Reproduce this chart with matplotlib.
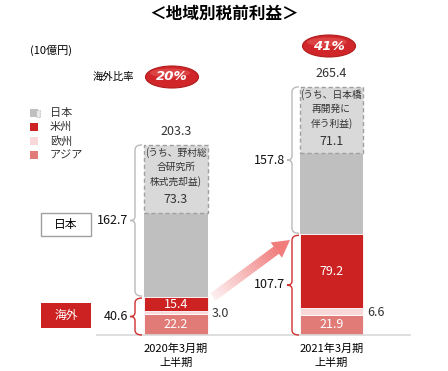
import numpy as np
import matplotlib
matplotlib.use("Agg")
import matplotlib.pyplot as plt
from matplotlib.patches import Rectangle, Ellipse, Polygon, PathPatch
from matplotlib.path import Path
from matplotlib.transforms import Affine2D

plt.rcParams['font.family'] = ['Noto Sans CJK JP', 'DejaVu Sans']

# ---- data ----
periods = ["2020年3月期\n上半期", "2021年3月期\n上半期"]
asia = [22.2, 21.9]
europe = [3.0, 6.6]
americas = [15.4, 79.2]
overseas_total = [40.6, 107.7]
japan_total = [162.7, 157.8]
japan_special = [73.3, 71.1]
totals = [203.3, 265.4]
overseas_ratio = ["20%", "41%"]
special_notes = ["(うち、野村総\n合研究所\n株式売却益)", "(うち、日本橋\n再開発に\n伴う利益)"]
legend_labels = ["日本", "米州", "欧州", "アジア"]

C_JP = "#bfbfbf"
C_SP = "#d9d9d9"
C_AM = "#cc2222"
C_EU = "#f8d8d8"
C_AS = "#e07b78"

W, H = 448, 371
fig = plt.figure(figsize=(W / 100, H / 100), dpi=100)
ax = fig.add_axes([97 / W, 36 / H, 313 / W, 315 / H])
ax.set_xlim(-0.508, 1.505)
ax.set_ylim(0, 315 / 0.935)

x = np.arange(len(periods))
bw = 0.41
bot = np.zeros(2)
ax.bar(x, asia, bw, bottom=bot, color=C_AS, edgecolor='white', linewidth=0.6)
bot += asia
ax.bar(x, europe, bw, bottom=bot, color=C_EU, edgecolor='white', linewidth=0.6)
bot += europe
ax.bar(x, americas, bw, bottom=bot, color=C_AM, edgecolor='white', linewidth=0.6)
jp_other = np.array(japan_total) - np.array(japan_special)
ax.bar(x, jp_other, bw, bottom=overseas_total, color=C_JP, linewidth=0)
ax.bar(x, japan_special, bw, bottom=np.array(overseas_total) + jp_other,
       color=C_SP, edgecolor='#a0a0a0', linewidth=1.0, linestyle=(0, (3, 2)))

for s in ['top', 'right', 'left']:
    ax.spines[s].set_visible(False)
ax.spines['bottom'].set_color('#d9d9d9')
ax.spines['bottom'].set_linewidth(1.2)
ax.set_yticks([])
ax.set_xticks(x)
ax.set_xticklabels(periods, fontsize=8, linespacing=1.45)
ax.tick_params(axis='x', length=0, pad=6)

fig.canvas.draw()
pix = Affine2D().scale(1 / W, -1 / H).translate(0, 1) + fig.transFigure


def ypx(v):
    return H - ax.transData.transform((0, v))[1]


def xpx(v):
    return ax.transData.transform((v, 0))[0]


def T(xp, yp, s, **kw):
    kw.setdefault('fontsize', 8)
    kw.setdefault('ha', 'center')
    kw.setdefault('va', 'center')
    return fig.text(xp / W, 1 - yp / H, s, **kw)


def brace(xl, yt, yb, color, ext=7, tip=5):
    ym = (yt + yb) / 2
    c = 5
    verts = [(xl + ext, yt), (xl, yt), (xl, yt + c),
             (xl, ym - 4), (xl, ym), (xl - tip, ym),
             (xl, ym), (xl, ym + 4),
             (xl, yb - c), (xl, yb), (xl + ext, yb)]
    codes = [Path.MOVETO, Path.CURVE3, Path.CURVE3,
             Path.LINETO, Path.CURVE3, Path.CURVE3,
             Path.CURVE3, Path.CURVE3,
             Path.LINETO, Path.CURVE3, Path.CURVE3]
    p = PathPatch(Path(verts, codes), fill=False, edgecolor=color, lw=1.0,
                  transform=pix, clip_on=False)
    fig.add_artist(p)


# title
T(224, 14, "＜地域別税前利益＞", fontsize=12, fontweight='bold')
T(30, 50, "(10億円)", fontsize=8, ha='left')
T(113, 77, "海外比率", fontsize=7.5)

# ellipses
for (cx, cy), txt in zip([(172, 77), (329, 46)], overseas_ratio):
    e = Ellipse((cx, cy), 53, 22, facecolor='#d0262a', edgecolor='#b01c1c', lw=0.8,
                transform=pix, clip_on=False)
    fig.add_artist(e)
    e2 = Ellipse((cx - 2, cy - 4), 40, 9, facecolor='#e86060', edgecolor='none', alpha=0.5,
                 transform=pix, clip_on=False)
    fig.add_artist(e2)
    T(cx, cy, txt, fontsize=9.5, color='white', fontweight='bold', fontstyle='italic',
      family=['DejaVu Sans'])

# legend
leg_colors = [C_JP, C_AM, C_EU, C_AS]
for i, (lab, col) in enumerate(zip(legend_labels, leg_colors)):
    yy = 113 + i * 14.1
    r = Rectangle((30, yy - 4), 8, 8, facecolor=col, edgecolor='none', transform=pix, clip_on=False)
    fig.add_artist(r)
    if i == 0:
        r2 = Rectangle((36, yy - 3.5), 4, 7, facecolor='#e8e8e8', edgecolor='#b0b0b0', lw=0.6,
                       linestyle=(0, (1, 1)), transform=pix, clip_on=False)
        fig.add_artist(r2)
    T(50, yy, lab, fontsize=8, ha='left', color='#333333')

# left boxes
b1 = Rectangle((41, 213), 50, 23, facecolor='white', edgecolor='#a0a0a0', lw=1.0,
               transform=pix, clip_on=False)
fig.add_artist(b1)
T(66, 224.5, "日本", fontsize=8.5)
b2 = Rectangle((41, 303), 50, 25, facecolor=C_AM, edgecolor='none',
               transform=pix, clip_on=False)
fig.add_artist(b2)
T(66, 315.5, "海外", fontsize=8.5, color='white')

# arrow with gradient
tail = np.array([213.0, 297.0])
tipp = np.array([290.0, 240.0])
d = tipp - tail
L = np.hypot(*d)
u = d / L
n = np.array([-u[1], u[0]])
hl, sw, hw = 17, 9, 19
shaft_end = tail + u * (L - hl)
c0 = np.array(matplotlib.colors.to_rgb('#fdf0f0'))
c1 = np.array(matplotlib.colors.to_rgb('#f07c7c'))
N = 30
for i in range(N):
    a0 = tail + (shaft_end - tail) * i / N
    a1 = tail + (shaft_end - tail) * (i + 1.05) / N
    col = c0 + (c1 - c0) * (i + 0.5) / N
    poly = [a0 + n * sw / 2, a1 + n * sw / 2, a1 - n * sw / 2, a0 - n * sw / 2]
    fig.add_artist(Polygon(poly, closed=True, facecolor=col, edgecolor='none',
                           transform=pix, clip_on=False))
head = [shaft_end + n * hw / 2, tipp, shaft_end - n * hw / 2]
fig.add_artist(Polygon(head, closed=True, facecolor=c1, edgecolor='none',
                       transform=pix, clip_on=False))

# braces and labels
brace_x = [135, 292]
for i in range(2):
    xl = brace_x[i]
    yt = ypx(totals[i])
    yo = ypx(overseas_total[i])
    y0 = ypx(0)
    brace(xl, yt, yo - 1, '#bbbbbb')
    brace(xl, yo + 1, y0, '#d03030')
    T(xl - 7, (yt + yo) / 2, f"{japan_total[i]:.1f}", fontsize=9, ha='right', color='#111111')
    T(xl - 7, (yo + y0) / 2, f"{overseas_total[i]:.1f}", fontsize=9, ha='right', color='#111111')

# value labels
for i in range(2):
    cx = xpx(x[i])
    T(cx, ypx(totals[i]) - 13, f"{totals[i]:.1f}", fontsize=9, color='#333333')
    T(cx, ypx(asia[i] / 2), f"{asia[i]:.1f}", fontsize=9, color='white')
    T(cx, ypx(asia[i] + europe[i] + americas[i] / 2), f"{americas[i]:.1f}", fontsize=9, color='white')
    rx = xpx(x[i] + bw / 2)
    T(rx + 4, ypx(asia[i] + europe[i] / 2) + 1, f"{europe[i]:.1f}", fontsize=9, ha='left', color='#333333')
    ytop = ypx(totals[i])
    T(cx, ytop + 22, special_notes[i], fontsize=7, color='#333333', linespacing=1.45)
    T(cx, ytop + 55, f"{japan_special[i]:.1f}", fontsize=9, color='#333333')

fig.savefig("out.png", dpi=100)
